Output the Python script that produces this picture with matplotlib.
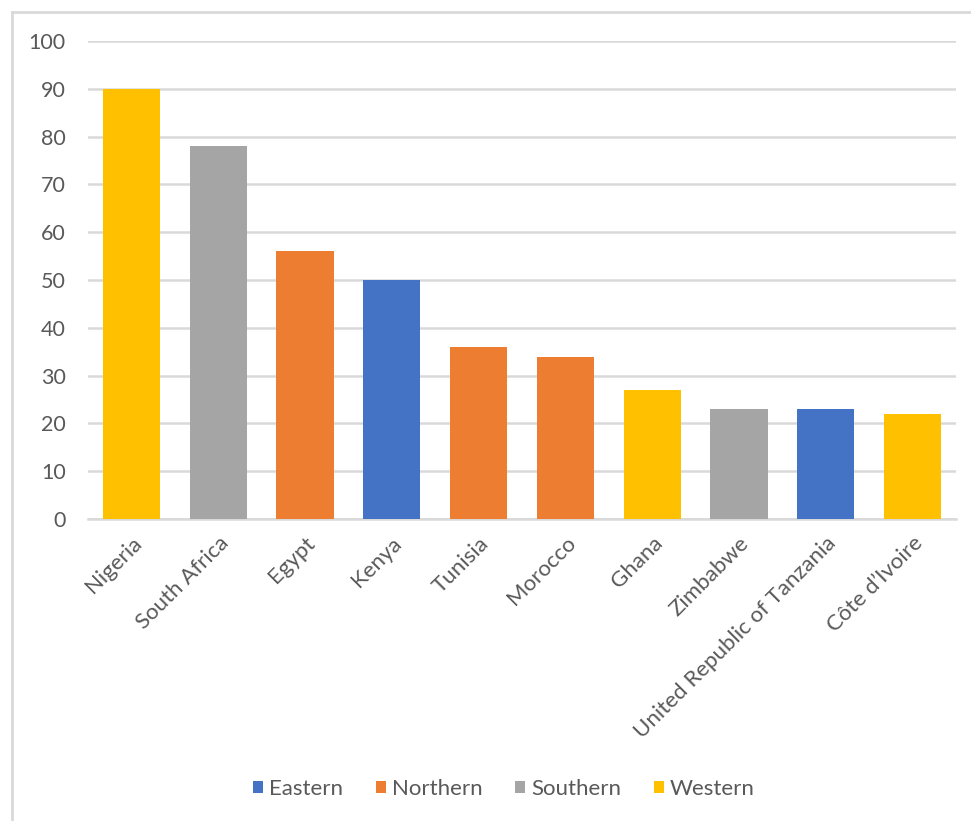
import matplotlib.pyplot as plt
from matplotlib.patches import Patch
from matplotlib.lines import Line2D

countries = ["Nigeria", "South Africa", "Egypt", "Kenya", "Tunisia", "Morocco",
             "Ghana", "Zimbabwe", "United Republic of Tanzania", "Côte d\u2019Ivoire"]
values = [90, 78, 56, 50, 36, 34, 27, 23, 23, 22]
regions = ["Western", "Southern", "Northern", "Eastern", "Northern", "Northern",
           "Western", "Southern", "Eastern", "Western"]

region_names = ["Eastern", "Northern", "Southern", "Western"]
region_colors = {"Eastern": "#4472C4", "Northern": "#ED7D31",
                 "Southern": "#A5A5A5", "Western": "#FFC000"}

plt.rcParams['font.family'] = ['Lato', 'DejaVu Sans']
text_color = "#595959"
grid_color = "#D9D9D9"

fig = plt.figure(figsize=(9.71, 8.21), dpi=100)
ax = fig.add_axes([0.0906, 0.3678, 0.894, 0.5822])

x = range(len(countries))
ax.bar(x, values, width=0.66, color=[region_colors[r] for r in regions], zorder=3)

ax.set_ylim(0, 100)
ax.set_xlim(-0.5, len(countries) - 0.5)
ax.set_yticks(range(0, 101, 10))
ax.yaxis.grid(True, color=grid_color, linewidth=1.8, zorder=0)
ax.set_xticks(list(x))
ax.set_xticklabels(countries, rotation=45, ha="right", rotation_mode="anchor")
ax.tick_params(axis="both", length=0, labelsize=15.5, colors=text_color)
ax.tick_params(axis="x", labelsize=16)
ax.tick_params(axis="y", pad=16)
ax.tick_params(axis="x", pad=10)
for s in ["top", "right", "left"]:
    ax.spines[s].set_visible(False)
ax.spines["bottom"].set_color(grid_color)
ax.spines["bottom"].set_linewidth(1.8)

handles = [Patch(facecolor=region_colors[r], label=r) for r in region_names]
fig.legend(handles=handles, loc="center", bbox_to_anchor=(0.519, 0.039), ncol=4,
           frameon=False, fontsize=16, labelcolor=text_color,
           handlelength=0.45, handleheight=0.45, handletextpad=0.25, columnspacing=1.5)

# chart frame (top and left edges)
fig.add_artist(Line2D([12 / 971, 1.0], [1 - 12 / 821, 1 - 12 / 821], color=grid_color, linewidth=2))
fig.add_artist(Line2D([12 / 971, 12 / 971], [0, 1 - 12 / 821], color=grid_color, linewidth=2))

fig.savefig("out.png", dpi=100, facecolor="white")
